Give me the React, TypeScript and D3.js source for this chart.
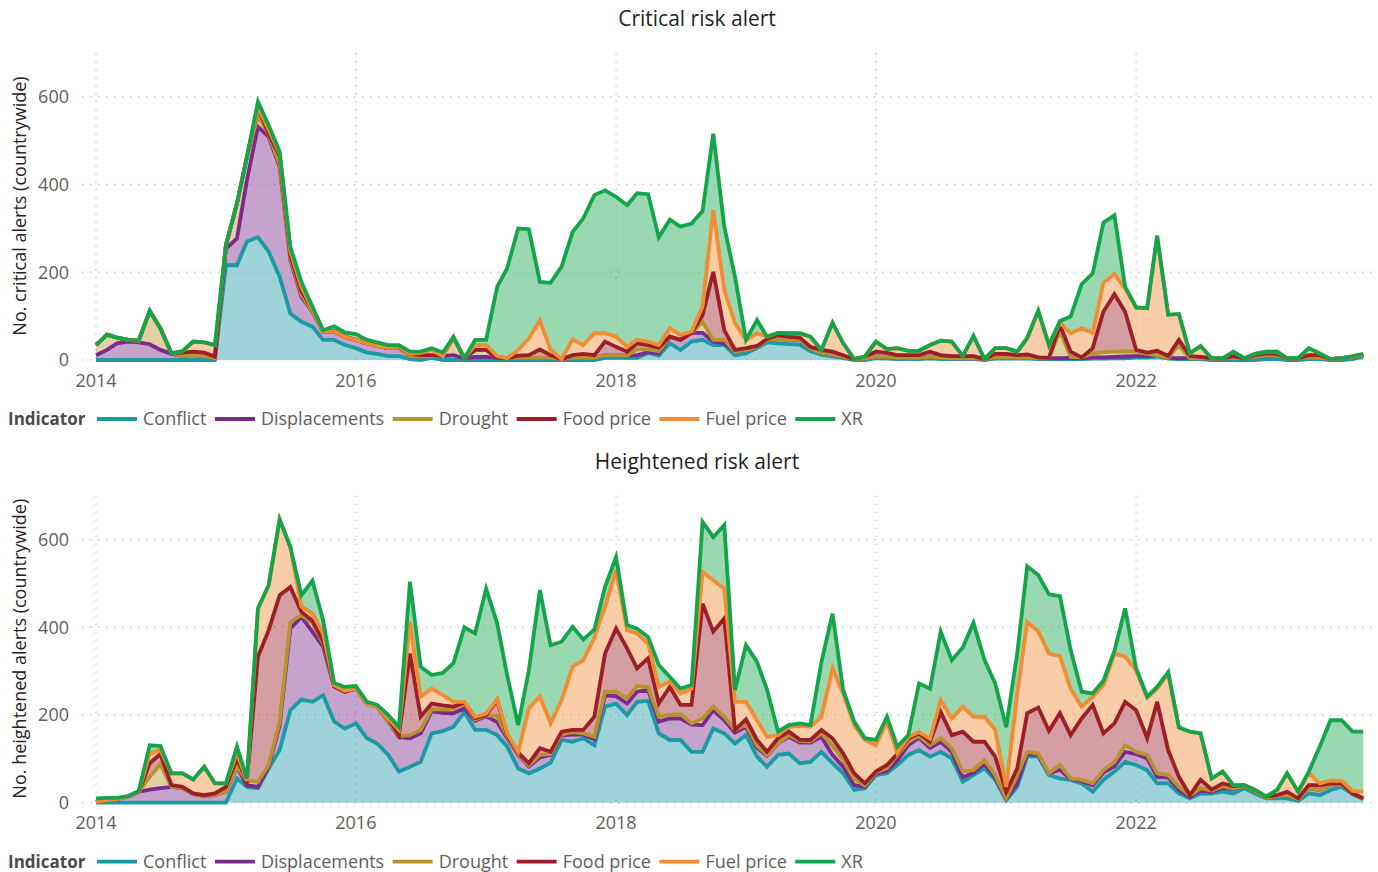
import * as d3 from 'd3';
import { useEffect, useRef } from 'react';

const indicators = ['Conflict', 'Displacements', 'Drought', 'Food price', 'Fuel price', 'XR'];
const colors = ['#1b9aa6', '#7b2a8c', '#b8922e', '#9b1e28', '#f08c32', '#14a54b'];
const yearTicks = [2014, 2016, 2018, 2020, 2022];
const valueTicks = [0, 200, 400, 600];
const monthCount = 118; // Jan 2014 .. Oct 2023

// Critical risk alerts, monthly counts per indicator
const critConflict = [0,0,0,0,0,0,0,0,0,0,0,0,216,216,270,280,247,190,106,87,76,46,46,34,27,17,14,9,9,2,0,5,0,0,0,0,0,0,0,0,0,0,0,0,0,0,0,5,5,5,5,16,10,38,23,42,46,34,34,11,15,28,40,38,36,35,20,12,8,4,0,0,4,3,2,2,2,4,2,2,2,2,0,3,3,3,3,2,2,2,2,2,3,3,4,4,6,6,8,3,2,2,2,0,0,0,0,0,2,2,0,0,2,2,0,0,2,8];
const critDisplacements = [11,23,38,42,40,36,23,14,9,11,9,4,38,61,140,252,262,250,122,57,34,19,19,19,19,21,18,18,18,7,8,4,9,11,4,7,7,5,4,5,5,5,5,2,5,5,5,6,6,5,6,2,5,15,23,20,16,8,4,8,8,2,6,10,10,11,6,4,4,3,2,3,4,4,3,3,3,4,3,2,2,2,2,3,3,2,3,2,2,2,3,2,3,3,3,4,3,3,3,2,2,2,2,4,4,5,4,7,9,8,4,4,3,3,2,4,5,4];
const critDrought = [23,35,13,4,4,76,49,1,0,0,0,0,8,80,53,26,5,5,4,5,0,0,0,0,0,0,0,0,0,0,0,0,0,41,0,16,16,0,0,0,0,0,0,0,0,0,0,0,0,0,13,6,5,0,0,0,25,4,8,0,0,0,0,0,0,0,0,0,0,0,0,0,0,0,0,0,0,0,0,0,0,0,0,0,0,0,0,0,0,62,2,2,9,12,12,12,10,5,0,0,30,0,0,0,0,0,0,0,0,0,0,0,0,0,0,0,0,0];
const critFood = [0,0,0,0,0,0,0,0,8,8,8,4,0,0,0,19,2,20,6,8,6,0,0,0,0,0,0,0,5,5,3,2,0,0,0,0,0,0,0,5,6,19,6,0,6,9,6,31,19,9,14,10,8,0,0,0,15,155,22,4,4,2,2,9,7,5,4,7,7,4,0,5,11,9,6,6,6,11,6,5,5,5,0,8,8,6,7,2,1,14,12,0,12,92,131,90,4,3,10,4,12,5,3,0,0,4,0,4,4,4,0,0,6,6,0,0,0,0];
const critFuel = [0,0,0,0,0,0,0,0,3,23,23,26,0,0,0,0,10,5,10,10,0,0,0,0,0,0,0,0,0,0,5,12,0,0,0,11,11,4,0,13,38,66,12,0,36,20,50,19,23,11,8,8,6,19,11,3,20,141,92,61,19,29,5,5,8,10,23,0,66,27,0,0,23,9,16,10,10,15,33,33,0,46,0,13,13,8,37,106,29,5,42,66,35,66,46,53,97,101,262,94,59,6,25,0,0,10,0,3,4,5,0,0,16,4,0,0,0,0];
const critXR = [0,0,0,0,0,0,0,0,0,0,0,0,0,0,0,12,9,5,10,11,6,3,12,10,13,8,8,7,2,5,3,4,8,0,0,12,12,158,205,277,249,88,153,211,245,289,315,326,319,323,334,336,246,248,247,246,218,174,144,106,0,30,0,0,0,0,0,0,0,0,0,0,0,0,0,0,0,0,0,0,0,0,0,0,0,0,0,0,0,4,38,101,135,137,134,4,0,0,0,0,0,0,0,0,0,0,0,0,0,0,0,0,0,0,0,0,2,2];

// Heightened risk alerts, monthly counts per indicator
const highConflict = [0,0,0,0,0,0,0,0,0,0,0,0,0,55,36,33,78,120,211,235,230,245,185,169,181,147,135,109,71,82,93,158,163,173,207,166,166,154,128,78,67,78,91,143,139,147,131,219,226,200,230,232,158,143,143,116,116,169,158,135,154,105,82,109,112,90,93,116,90,67,29,33,63,67,86,109,120,105,116,101,48,63,78,52,6,36,106,105,63,55,52,44,25,52,71,93,86,74,44,44,21,10,21,21,25,21,33,21,10,10,10,4,21,17,29,36,19,8];
const highDisplacements = [2,6,8,14,25,30,33,36,33,20,15,17,25,27,4,3,4,57,186,189,160,110,80,84,79,79,84,76,79,65,65,50,42,31,8,21,31,30,19,31,16,25,18,10,17,8,14,26,17,26,23,25,27,49,49,62,61,42,30,25,19,20,25,26,38,47,44,34,19,15,11,3,4,5,10,22,28,20,23,15,10,5,10,5,2,8,5,4,3,20,2,5,15,17,12,23,25,27,15,14,8,3,6,4,8,10,5,5,2,5,7,4,12,12,12,6,2,1];
const highDrought = [0,0,0,0,0,29,55,0,0,0,0,0,0,0,10,12,4,8,15,4,20,8,0,0,0,0,0,0,2,7,8,5,8,10,11,3,2,14,3,2,2,6,2,3,5,3,5,8,10,12,13,6,11,8,10,3,15,8,8,6,5,5,2,0,4,4,3,8,20,15,15,3,2,7,12,8,4,6,8,8,13,6,9,6,2,19,5,3,1,11,1,3,4,5,10,15,5,8,8,5,7,3,6,3,4,2,0,0,0,0,0,0,0,0,0,0,0,0];
const highFood = [0,0,0,0,0,31,23,4,3,1,2,4,11,19,0,285,307,288,80,7,5,5,0,0,0,0,0,7,2,186,30,13,9,5,2,3,1,36,4,3,5,15,5,6,5,8,46,87,144,114,40,66,30,64,21,42,262,171,224,0,12,13,7,12,8,3,3,8,18,15,12,5,2,7,3,8,6,8,60,30,91,65,42,42,15,15,88,105,97,118,99,140,179,84,88,99,95,38,163,57,23,1,19,2,7,5,2,3,2,2,8,2,7,11,3,2,0,1];
const highFuel = [0,0,0,0,0,22,9,27,31,32,65,23,8,13,0,110,103,173,91,12,16,18,3,2,0,0,0,0,12,72,46,34,24,11,2,3,3,2,4,2,125,118,65,72,144,159,180,107,133,41,80,34,38,12,26,37,72,117,68,64,40,45,34,7,11,31,30,30,159,137,110,99,60,99,2,3,3,7,27,38,57,57,57,61,11,171,208,174,176,130,106,27,18,110,159,103,91,93,30,175,113,145,106,25,27,2,0,0,0,12,42,15,27,4,6,6,6,15];
const highXR = [8,5,3,1,2,19,9,0,0,0,0,0,0,14,5,0,0,0,0,26,75,30,5,9,6,4,4,8,7,92,68,31,50,88,170,190,285,173,133,61,87,243,178,133,91,47,19,45,30,12,11,15,50,11,11,8,114,99,145,27,129,133,108,8,4,6,4,125,125,8,8,4,12,11,15,4,111,114,156,133,135,214,129,106,136,92,127,128,135,137,88,34,8,10,6,110,4,2,4,3,0,0,0,0,0,0,0,0,0,0,0,0,4,84,138,138,135,137];

const panels = [
  {
    title: 'Critical risk alert',
    yLabel: 'No. critical alerts (countrywide)',
    series: [critConflict, critDisplacements, critDrought, critFood, critFuel, critXR],
    offset: 0,
  },
  {
    title: 'Heightened risk alert',
    yLabel: 'No. heightened alerts (countrywide)',
    series: [highConflict, highDisplacements, highDrought, highFood, highFuel, highXR],
    offset: 442.7,
  },
];

const font = '"Open Sans", "Noto Sans", sans-serif';

export default function App() {
  const ref = useRef<SVGSVGElement>(null);

  useEffect(() => {
    document.body.style.margin = '0';
    const svg = d3.select(ref.current);
    svg.selectAll('*').remove();

    const months = d3.range(monthCount).map(i => new Date(2014, i, 1));

    const x = d3
      .scaleTime()
      .domain([new Date(2014, 0, 1), new Date(2024, 0, 1)])
      .range([96, 1396]);

    panels.forEach(panel => {
      const g = svg.append('g').attr('transform', `translate(0,${panel.offset})`);

      const y = d3.scaleLinear().domain([0, 700]).range([360, 53]);

      const rows = months.map((date, i) => {
        const row: any = { date };
        indicators.forEach((key, k) => (row[key] = panel.series[k][i]));
        return row;
      });
      const stacked = d3.stack().keys(indicators)(rows);

      // grid
      g.append('g')
        .selectAll('line')
        .data(valueTicks)
        .join('line')
        .attr('x1', 82)
        .attr('x2', 1372)
        .attr('y1', d => y(d))
        .attr('y2', d => y(d))
        .attr('stroke', '#c8c6c4')
        .attr('stroke-width', 1.4)
        .attr('stroke-dasharray', '1.4,6.6');

      g.append('g')
        .selectAll('line')
        .data(yearTicks)
        .join('line')
        .attr('x1', d => x(new Date(d, 0, 1)))
        .attr('x2', d => x(new Date(d, 0, 1)))
        .attr('y1', y(700))
        .attr('y2', y(0))
        .attr('stroke', '#c8c6c4')
        .attr('stroke-width', 1.4)
        .attr('stroke-dasharray', '1.4,6.6');

      // axis labels
      g.append('g')
        .selectAll('text')
        .data(valueTicks)
        .join('text')
        .attr('x', 69)
        .attr('y', d => y(d))
        .attr('dy', '0.35em')
        .attr('text-anchor', 'end')
        .attr('font-family', font)
        .attr('font-size', 18)
        .attr('fill', '#605e5c')
        .text(d => d);

      g.append('g')
        .selectAll('text')
        .data(yearTicks)
        .join('text')
        .attr('x', d => x(new Date(d, 0, 1)))
        .attr('y', 386.5)
        .attr('text-anchor', 'middle')
        .attr('font-family', font)
        .attr('font-size', 18)
        .attr('fill', '#605e5c')
        .text(d => d);

      g.append('text')
        .attr('transform', `translate(19,${panel.offset === 0 ? 206 : 206})` + ' rotate(-90)')
        .attr('text-anchor', 'middle')
        .attr('dominant-baseline', 'central')
        .attr('font-family', font)
        .attr('font-size', 18)
        .attr('fill', '#252423')
        .text(panel.yLabel);

      g.append('text')
        .attr('x', 697)
        .attr('y', 26)
        .attr('text-anchor', 'middle')
        .attr('font-family', font)
        .attr('font-size', 21)
        .attr('fill', '#252423')
        .text(panel.title);

      // stacked areas
      const area = d3
        .area<any>()
        .x(d => x(d.data.date))
        .y0(d => y(d[0]))
        .y1(d => y(d[1]));

      const line = d3
        .line<any>()
        .x(d => x(d.data.date))
        .y(d => y(d[1]));

      g.append('g')
        .selectAll('path')
        .data(stacked)
        .join('path')
        .attr('d', area)
        .attr('fill', (d, i) => colors[i])
        .attr('fill-opacity', 0.43);

      g.append('g')
        .selectAll('path')
        .data(stacked)
        .join('path')
        .attr('d', line)
        .attr('fill', 'none')
        .attr('stroke', (d, i) => colors[i])
        .attr('stroke-width', 3.8);

      // legend
      const legend = g.append('g').attr('transform', 'translate(0,419)');
      legend
        .append('text')
        .attr('x', 8)
        .attr('y', 0)
        .attr('dy', '0.35em')
        .attr('font-family', font)
        .attr('font-size', 17)
        .attr('font-weight', 700)
        .attr('fill', '#4a4a4a')
        .text('Indicator');

      let cursor = 97;
      indicators.forEach((name, i) => {
        legend
          .append('line')
          .attr('x1', cursor)
          .attr('x2', cursor + 40)
          .attr('y1', 0)
          .attr('y2', 0)
          .attr('stroke', colors[i])
          .attr('stroke-width', 3.8);
        const t = legend
          .append('text')
          .attr('x', cursor + 46)
          .attr('y', 0)
          .attr('dy', '0.35em')
          .attr('font-family', font)
          .attr('font-size', 18)
          .attr('fill', '#605e5c')
          .text(name);
        cursor += 46 + (t.node() as SVGTextElement).getComputedTextLength() + 8.5;
      });
    });
  }, []);

  return <svg ref={ref} width={1378} height={872} style={{ display: 'block' }} />;
}
